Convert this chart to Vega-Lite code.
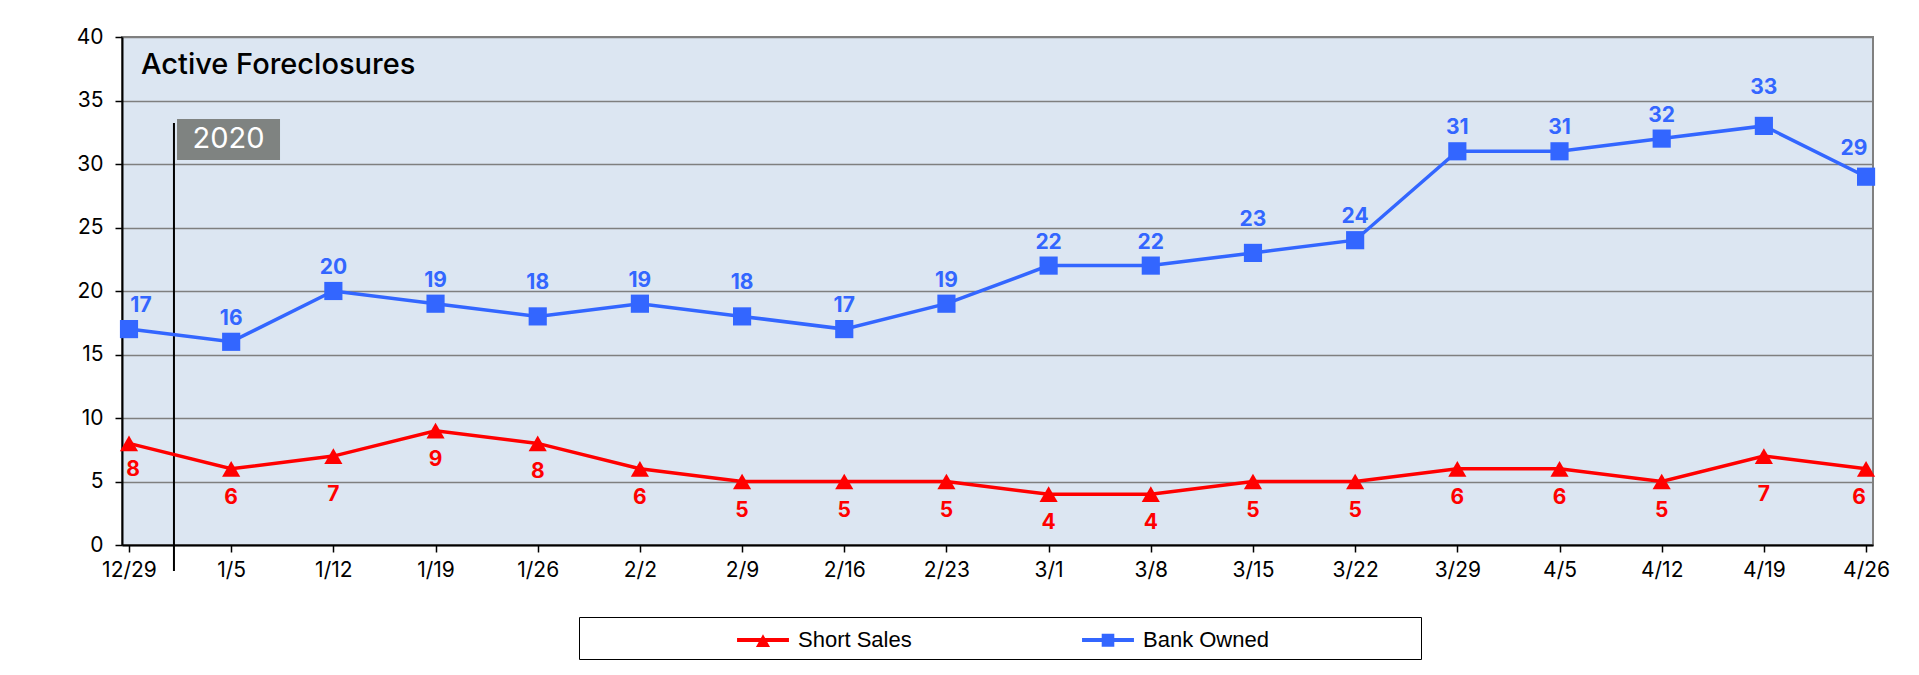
{
  "$schema": "https://vega.github.io/schema/vega-lite/v6.json",
  "autosize": {"type": "none"},
  "width": 1751,
  "height": 508,
  "padding": {"left": 122, "top": 37, "right": 46, "bottom": 130},
  "background": "#ffffff",
  "config": {
    "view": {"fill": "#dce6f2", "stroke": "#808080", "strokeWidth": 2},
    "font": "Inter",
    "text": {"fontSize": 21, "fontWeight": "bold", "font": "Inter"}
  },
  "datasets": {
    "series": [
      {"i": 0, "week": "12/29", "series": "Short Sales", "value": 8},
      {"i": 1, "week": "1/5", "series": "Short Sales", "value": 6},
      {"i": 2, "week": "1/12", "series": "Short Sales", "value": 7},
      {"i": 3, "week": "1/19", "series": "Short Sales", "value": 9},
      {"i": 4, "week": "1/26", "series": "Short Sales", "value": 8},
      {"i": 5, "week": "2/2", "series": "Short Sales", "value": 6},
      {"i": 6, "week": "2/9", "series": "Short Sales", "value": 5},
      {"i": 7, "week": "2/16", "series": "Short Sales", "value": 5},
      {"i": 8, "week": "2/23", "series": "Short Sales", "value": 5},
      {"i": 9, "week": "3/1", "series": "Short Sales", "value": 4},
      {"i": 10, "week": "3/8", "series": "Short Sales", "value": 4},
      {"i": 11, "week": "3/15", "series": "Short Sales", "value": 5},
      {"i": 12, "week": "3/22", "series": "Short Sales", "value": 5},
      {"i": 13, "week": "3/29", "series": "Short Sales", "value": 6},
      {"i": 14, "week": "4/5", "series": "Short Sales", "value": 6},
      {"i": 15, "week": "4/12", "series": "Short Sales", "value": 5},
      {"i": 16, "week": "4/19", "series": "Short Sales", "value": 7},
      {"i": 17, "week": "4/26", "series": "Short Sales", "value": 6},
      {"i": 0, "week": "12/29", "series": "Bank Owned", "value": 17},
      {"i": 1, "week": "1/5", "series": "Bank Owned", "value": 16},
      {"i": 2, "week": "1/12", "series": "Bank Owned", "value": 20},
      {"i": 3, "week": "1/19", "series": "Bank Owned", "value": 19},
      {"i": 4, "week": "1/26", "series": "Bank Owned", "value": 18},
      {"i": 5, "week": "2/2", "series": "Bank Owned", "value": 19},
      {"i": 6, "week": "2/9", "series": "Bank Owned", "value": 18},
      {"i": 7, "week": "2/16", "series": "Bank Owned", "value": 17},
      {"i": 8, "week": "2/23", "series": "Bank Owned", "value": 19},
      {"i": 9, "week": "3/1", "series": "Bank Owned", "value": 22},
      {"i": 10, "week": "3/8", "series": "Bank Owned", "value": 22},
      {"i": 11, "week": "3/15", "series": "Bank Owned", "value": 23},
      {"i": 12, "week": "3/22", "series": "Bank Owned", "value": 24},
      {"i": 13, "week": "3/29", "series": "Bank Owned", "value": 31},
      {"i": 14, "week": "4/5", "series": "Bank Owned", "value": 31},
      {"i": 15, "week": "4/12", "series": "Bank Owned", "value": 32},
      {"i": 16, "week": "4/19", "series": "Bank Owned", "value": 33},
      {"i": 17, "week": "4/26", "series": "Bank Owned", "value": 29}
    ],
    "yearMark": [
      {"x": 0.44, "y": 33.23, "y2": -2.05}
    ],
    "yearBox": [
      {"x": 0.47, "x2": 1.478, "y": 33.54, "y2": 30.31, "xc": 0.974, "yc": 31.93, "label": "2020"}
    ],
    "heading": [
      {"x": 0.117, "y": 37.09, "label": "Active Foreclosures"}
    ]
  },
  "layer": [
    {
      "data": {"name": "yearMark"},
      "mark": {"type": "rule", "color": "#000000", "strokeWidth": 2, "clip": false},
      "encoding": {
        "x": {"field": "x", "type": "quantitative", "scale": {"domain": [-0.0685, 17.068], "nice": false, "zero": false}},
        "y": {"field": "y", "type": "quantitative"},
        "y2": {"field": "y2"}
      }
    },
    {
      "data": {"name": "yearBox"},
      "mark": {"type": "rect", "color": "#7f8381"},
      "encoding": {
        "x": {"field": "x", "type": "quantitative"},
        "x2": {"field": "x2"},
        "y": {"field": "y", "type": "quantitative"},
        "y2": {"field": "y2"}
      }
    },
    {
      "data": {"name": "yearBox"},
      "mark": {"type": "text", "color": "#ffffff", "fontSize": 29, "font": "Inter", "fontWeight": "normal", "align": "center", "baseline": "middle"},
      "encoding": {
        "x": {"field": "xc", "type": "quantitative"},
        "y": {"field": "yc", "type": "quantitative"},
        "text": {"field": "label"}
      }
    },
    {
      "data": {"name": "heading"},
      "mark": {"type": "text", "color": "#000000", "fontSize": 29, "font": "Inter", "fontWeight": 500, "align": "left", "baseline": "alphabetic"},
      "encoding": {
        "x": {"field": "x", "type": "quantitative"},
        "y": {"field": "y", "type": "quantitative"},
        "text": {"field": "label"}
      }
    },
    {
      "data": {"name": "series"},
      "mark": {"type": "line", "strokeWidth": 3.5},
      "encoding": {
        "x": {
          "field": "i", "type": "quantitative",
          "scale": {"domain": [-0.0685, 17.068], "nice": false, "zero": false},
          "axis": {
            "title": null,
            "values": [0,1,2,3,4,5,6,7,8,9,10,11,12,13,14,15,16,17],
            "labelExpr": "['12/29','1/5','1/12','1/19','1/26','2/2','2/9','2/16','2/23','3/1','3/8','3/15','3/22','3/29','4/5','4/12','4/19','4/26'][datum.value]",
            "grid": false,
            "domainColor": "#000000", "domainWidth": 2,
            "tickColor": "#000000", "tickWidth": 1.5, "tickSize": 7,
            "labelFont": "Inter", "labelFontSize": 21, "labelColor": "#000000",
            "labelPadding": 7, "labelFlush": false
          }
        },
        "y": {
          "field": "value", "type": "quantitative",
          "scale": {"domain": [0, 40], "nice": false},
          "axis": {
            "title": null,
            "values": [0,5,10,15,20,25,30,35,40],
            "grid": true, "gridColor": "#7f7f7f", "gridWidth": 1.5,
            "domainColor": "#000000", "domainWidth": 2,
            "tickColor": "#000000", "tickWidth": 1.5, "tickSize": 7,
            "labelFont": "Inter", "labelFontSize": 21, "labelColor": "#000000",
            "labelPadding": 12
          }
        },
        "color": {
          "field": "series", "type": "nominal",
          "scale": {"domain": ["Short Sales", "Bank Owned"], "range": ["#ff0000", "#3366ff"]},
          "legend": {
            "orient": "none",
            "legendX": 457,
            "legendY": 580,
            "direction": "horizontal",
            "title": "\u00a0",
            "titleOrient": "left",
            "titlePadding": 161,
            "titleFontSize": 18,
            "padding": 8,
            "strokeColor": "#000000",
            "fillColor": "#ffffff",
            "symbolSize": 900,
            "symbolStrokeWidth": 0,
            "symbolOpacity": 1,
            "labelOffset": 20,
            "columnPadding": 170,
            "labelLimit": 800,
            "labelFont": "Liberation Sans",
            "labelFontSize": 22,
            "labelColor": "#000000",
            "labelExpr": "datum.value == 'Bank Owned' ? datum.label + '\u2800\u2800\u2800\u2800\u2800\u2800\u2800\u2800\u2800' : datum.label"
          }
        }
      }
    },
    {
      "data": {"name": "series"},
      "transform": [{"filter": "false"}],
      "mark": {"type": "point", "filled": true, "size": 900, "opacity": 1},
      "encoding": {
        "x": {"field": "i", "type": "quantitative"},
        "y": {"field": "value", "type": "quantitative"},
        "color": {"field": "series", "type": "nominal"},
        "shape": {
          "field": "series", "type": "nominal",
          "scale": {
            "domain": ["Short Sales", "Bank Owned"],
            "range": [
              "M-1.73,-0.13H1.73V0.13H-1.73Z M0,-0.38L0.47,0.47H-0.47Z",
              "M-1.73,-0.13H1.73V0.13H-1.73Z M-0.42,-0.42H0.42V0.45H-0.42Z"
            ]
          }
        }
      }
    },
    {
      "data": {"name": "series"},
      "transform": [{"filter": "datum.series == 'Short Sales'"}],
      "mark": {"type": "point", "filled": true, "opacity": 1, "size": 330, "shape": "triangle-up", "color": "#ff0000"},
      "encoding": {
        "x": {"field": "i", "type": "quantitative"},
        "y": {"field": "value", "type": "quantitative"}
      }
    },
    {
      "data": {"name": "series"},
      "transform": [{"filter": "datum.series == 'Bank Owned'"}],
      "mark": {"type": "point", "filled": true, "opacity": 1, "size": 330, "shape": "square", "color": "#3366ff"},
      "encoding": {
        "x": {"field": "i", "type": "quantitative"},
        "y": {"field": "value", "type": "quantitative"}
      }
    },
    {
      "data": {"name": "series"},
      "transform": [{"filter": "datum.series == 'Bank Owned' && indexof([0,4,6,11,16,17], datum.i) < 0"}],
      "mark": {"type": "text", "baseline": "alphabetic", "dy": -17, "color": "#3366ff"},
      "encoding": {
        "x": {"field": "i", "type": "quantitative"},
        "y": {"field": "value", "type": "quantitative"},
        "text": {"field": "value", "type": "quantitative"}
      }
    },
    {
      "data": {"name": "series"},
      "transform": [{"filter": "datum.series == 'Bank Owned' && datum.i == 0"}],
      "mark": {"type": "text", "baseline": "alphabetic", "dy": -17, "dx": 12, "color": "#3366ff"},
      "encoding": {
        "x": {"field": "i", "type": "quantitative"},
        "y": {"field": "value", "type": "quantitative"},
        "text": {"field": "value", "type": "quantitative"}
      }
    },
    {
      "data": {"name": "series"},
      "transform": [{"filter": "datum.series == 'Bank Owned' && indexof([4,6,11], datum.i) >= 0"}],
      "mark": {"type": "text", "baseline": "alphabetic", "dy": -27, "color": "#3366ff"},
      "encoding": {
        "x": {"field": "i", "type": "quantitative"},
        "y": {"field": "value", "type": "quantitative"},
        "text": {"field": "value", "type": "quantitative"}
      }
    },
    {
      "data": {"name": "series"},
      "transform": [{"filter": "datum.series == 'Bank Owned' && datum.i == 16"}],
      "mark": {"type": "text", "baseline": "alphabetic", "dy": -32, "color": "#3366ff"},
      "encoding": {
        "x": {"field": "i", "type": "quantitative"},
        "y": {"field": "value", "type": "quantitative"},
        "text": {"field": "value", "type": "quantitative"}
      }
    },
    {
      "data": {"name": "series"},
      "transform": [{"filter": "datum.series == 'Bank Owned' && datum.i == 17"}],
      "mark": {"type": "text", "baseline": "alphabetic", "dy": -22, "dx": -12, "color": "#3366ff"},
      "encoding": {
        "x": {"field": "i", "type": "quantitative"},
        "y": {"field": "value", "type": "quantitative"},
        "text": {"field": "value", "type": "quantitative"}
      }
    },
    {
      "data": {"name": "series"},
      "transform": [{"filter": "datum.series == 'Short Sales' && indexof([0,2,16,17], datum.i) < 0"}],
      "mark": {"type": "text", "baseline": "top", "dy": 18, "color": "#ff0000"},
      "encoding": {
        "x": {"field": "i", "type": "quantitative"},
        "y": {"field": "value", "type": "quantitative"},
        "text": {"field": "value", "type": "quantitative"}
      }
    },
    {
      "data": {"name": "series"},
      "transform": [{"filter": "datum.series == 'Short Sales' && datum.i == 0"}],
      "mark": {"type": "text", "baseline": "top", "dy": 16, "dx": 4, "color": "#ff0000"},
      "encoding": {
        "x": {"field": "i", "type": "quantitative"},
        "y": {"field": "value", "type": "quantitative"},
        "text": {"field": "value", "type": "quantitative"}
      }
    },
    {
      "data": {"name": "series"},
      "transform": [{"filter": "datum.series == 'Short Sales' && indexof([2,16], datum.i) >= 0"}],
      "mark": {"type": "text", "baseline": "top", "dy": 28, "color": "#ff0000"},
      "encoding": {
        "x": {"field": "i", "type": "quantitative"},
        "y": {"field": "value", "type": "quantitative"},
        "text": {"field": "value", "type": "quantitative"}
      }
    },
    {
      "data": {"name": "series"},
      "transform": [{"filter": "datum.series == 'Short Sales' && datum.i == 17"}],
      "mark": {"type": "text", "baseline": "top", "dy": 18, "dx": -7, "color": "#ff0000"},
      "encoding": {
        "x": {"field": "i", "type": "quantitative"},
        "y": {"field": "value", "type": "quantitative"},
        "text": {"field": "value", "type": "quantitative"}
      }
    }
  ]
}
